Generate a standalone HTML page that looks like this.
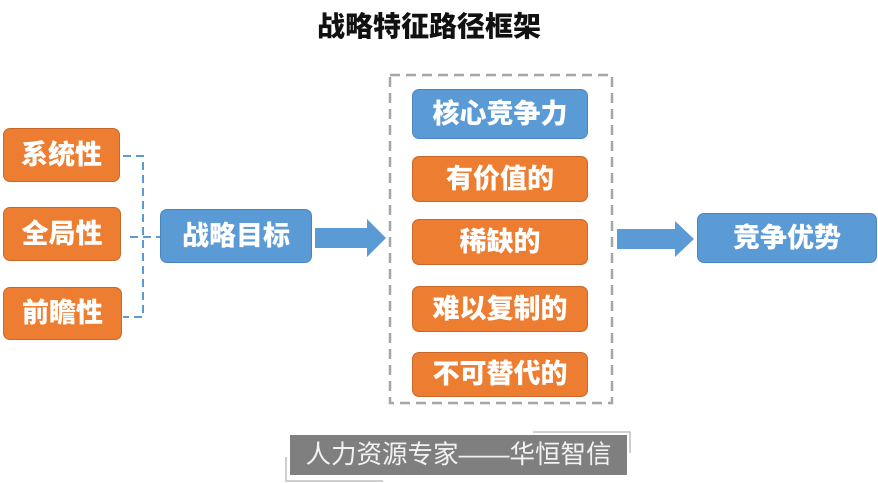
<!DOCTYPE html>
<html><head><meta charset="utf-8">
<style>
html,body{margin:0;padding:0;background:#fff;}
body{width:878px;height:483px;position:relative;overflow:hidden;font-family:"Liberation Sans","Noto Sans CJK SC",sans-serif;}
.b{position:absolute;box-sizing:border-box;border-radius:7px;color:#fff;font-weight:900;font-size:27px;display:flex;align-items:center;justify-content:center;line-height:1;}
.o{background:#ed7d31;border:1px solid #c8692a;}
.u{background:#5b9bd5;border:1px solid #4a86bd;}
.t{position:absolute;left:0;width:858px;top:10px;text-align:center;font-size:28px;font-weight:900;color:#111;line-height:34px;}
</style></head><body>
<div class="t">战略特征路径框架</div>

<svg width="878" height="483" style="position:absolute;left:0;top:0">
  <g stroke="#5b9bd5" stroke-width="2" fill="none" stroke-dasharray="8,5">
    <path d="M123 156 H143 V317 H123"/>
    <path d="M130 237 H160"/>
  </g>
  <rect x="390" y="75" width="222" height="328" fill="none" stroke="#a6a6a6" stroke-width="2.5" stroke-dasharray="10,6"/>
  <polygon points="315,228 367,228 367,219 386,238 367,257 367,248 315,248" fill="#5b9bd5"/>
  <polygon points="617,229 675,229 675,221 694,239 675,257 675,249 617,249" fill="#5b9bd5"/>
  <path d="M533 432 H630 V453" stroke="#bfbfbf" stroke-width="1.5" fill="none"/>
  <path d="M286 457 V481 H383" stroke="#bfbfbf" stroke-width="1.5" fill="none"/>
</svg>

<div class="b o" style="left:3px;top:128px;width:117px;height:54px;">系统性</div>
<div class="b o" style="left:3px;top:207px;width:118px;height:54px;">全局性</div>
<div class="b o" style="left:3px;top:287px;width:119px;height:53px;">前瞻性</div>

<div class="b u" style="left:160px;top:209px;width:152px;height:54px;">战略目标</div>

<div class="b u" style="left:412px;top:89px;width:176px;height:50px;">核心竞争力</div>
<div class="b o" style="left:412px;top:156px;width:176px;height:46px;">有价值的</div>
<div class="b o" style="left:412px;top:219px;width:176px;height:46px;">稀缺的</div>
<div class="b o" style="left:412px;top:286px;width:176px;height:46px;">难以复制的</div>
<div class="b o" style="left:412px;top:352px;width:176px;height:45px;">不可替代的</div>

<div class="b u" style="left:697px;top:213px;width:180px;height:50px;">竞争优势</div>

<div style="position:absolute;left:290px;top:435px;width:337px;height:40px;background:#7f7f7f;color:#f2f2f2;font-size:25.5px;line-height:40px;text-align:center;white-space:nowrap;font-family:'Liberation Sans','Noto Sans CJK SC',sans-serif;">人力资源专家——华恒智信</div>
</body></html>
